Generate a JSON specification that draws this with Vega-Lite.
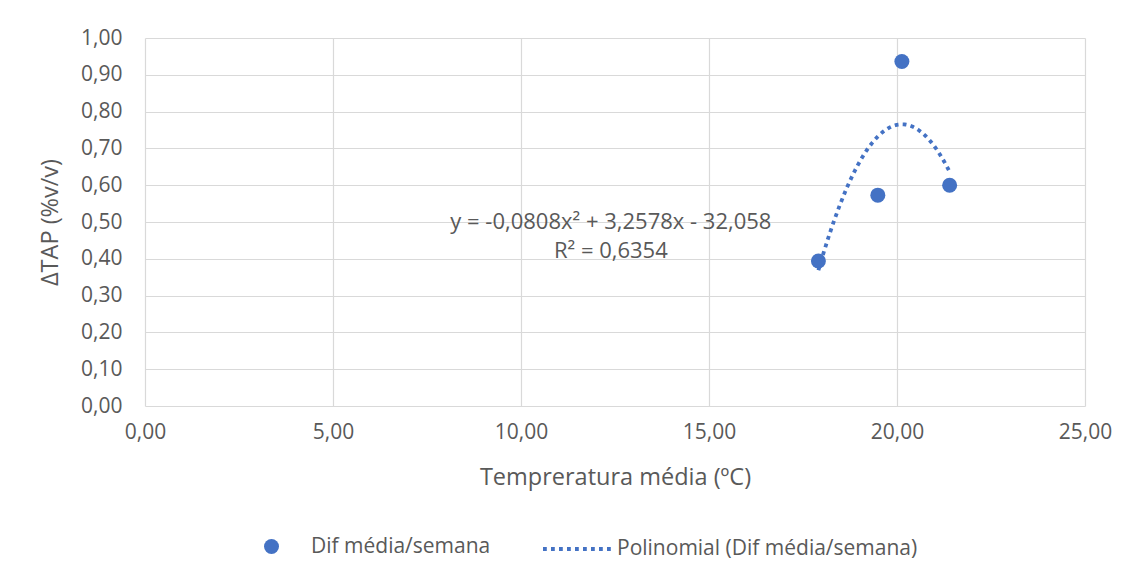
{
  "$schema": "https://vega.github.io/schema/vega-lite/v6.json",
  "width": 940,
  "height": 368,
  "autosize": {"type": "none"},
  "padding": {"left": 145, "top": 38, "right": 47, "bottom": 172},
  "background": "white",
  "config": {
    "locale": {"number": {"decimal": ",", "thousands": ".", "grouping": [3], "currency": ["", ""]}},
    "font": "Open Sans",
    "view": {"stroke": null},
    "axis": {
      "grid": true,
      "gridColor": "#d9d9d9",
      "gridWidth": 1.2,
      "domain": false,
      "ticks": false,
      "labelColor": "#595959",
      "labelFontSize": 21,
      "labelFont": "Open Sans",
      "labelOverlap": false,
      "titleColor": "#595959",
      "titleFontSize": 23.5,
      "titleFontWeight": "normal",
      "titleFont": "Open Sans"
    },
    "legend": {
      "title": null,
      "labelFontSize": 21,
      "labelColor": "#595959",
      "labelFont": "Open Sans",
      "labelLimit": 500,
      "padding": 0
    }
  },
  "resolve": {"legend": {"shape": "independent", "strokeDash": "independent"}},
  "data": {
    "values": [
      {"temp": 17.91, "dif": 0.394},
      {"temp": 19.49, "dif": 0.573},
      {"temp": 20.13, "dif": 0.936},
      {"temp": 21.40, "dif": 0.600}
    ]
  },
  "encoding": {
    "x": {
      "field": "temp",
      "type": "quantitative",
      "title": "Tempreratura média (ºC)",
      "scale": {"domain": [0, 25], "nice": false, "zero": false},
      "axis": {"values": [0, 5, 10, 15, 20, 25], "format": ".2f", "labelPadding": 15, "titlePadding": 23, "labelFlush": false}
    },
    "y": {
      "field": "dif",
      "type": "quantitative",
      "title": "ΔTAP (%v/v)",
      "scale": {"domain": [0, 1], "nice": false},
      "axis": {"values": [0, 0.1, 0.2, 0.3, 0.4, 0.5, 0.6, 0.7, 0.8, 0.9, 1.0], "format": ".2f", "labelPadding": 23, "titlePadding": 18, "labelFlush": false}
    }
  },
  "layer": [
    {
      "mark": {"type": "point", "filled": true, "opacity": 1, "size": 225, "color": "#4472C4"},
      "encoding": {
        "shape": {
          "datum": "Dif média/semana",
          "scale": {"domain": ["Dif média/semana"], "range": ["circle"]},
          "legend": {
            "orient": "none",
            "legendX": 116,
            "legendY": 498,
            "symbolSize": 225,
            "symbolType": "circle",
            "symbolFillColor": "#4472C4",
            "symbolStrokeWidth": 0,
            "symbolOpacity": 1,
            "labelOffset": 29
          }
        }
      }
    },
    {
      "transform": [{"regression": "dif", "on": "temp", "method": "poly", "order": 2}],
      "mark": {"type": "line", "strokeWidth": 3.8, "strokeCap": "butt", "color": "#4472C4"},
      "encoding": {
        "strokeDash": {
          "datum": "Polinomial (Dif média/semana)",
          "scale": {"domain": ["Polinomial (Dif média/semana)"], "range": [[3.8, 4.2]]},
          "legend": {
            "orient": "none",
            "legendX": 396,
            "legendY": 474,
            "symbolSize": 4900,
            "symbolType": "stroke",
            "symbolStrokeColor": "#4472C4",
            "symbolStrokeWidth": 3.8,
            "symbolOpacity": 1,
            "labelOffset": 2
          }
        }
      }
    },
    {
      "transform": [{"filter": "datum.temp > 21"}],
      "mark": {"type": "text", "fontSize": 22, "fontWeight": "normal", "color": "#595959", "align": "center", "baseline": "middle", "lineHeight": 29, "font": "Open Sans"},
      "encoding": {
        "x": {"datum": 12.39, "type": "quantitative"},
        "y": {"datum": 0.5, "type": "quantitative"},
        "text": {"value": ["y = -0,0808x² + 3,2578x - 32,058", "R² = 0,6354"]}
      }
    }
  ]
}
